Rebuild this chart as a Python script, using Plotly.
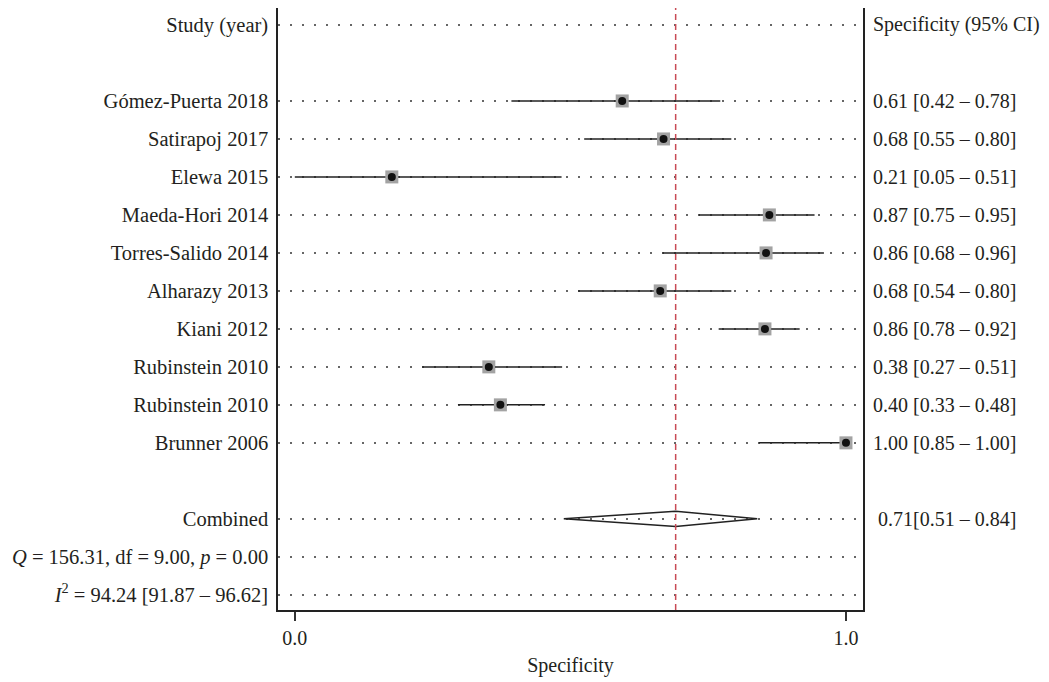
import plotly.graph_objects as go

# ---- data ----
studies = ["Gómez-Puerta 2018", "Satirapoj 2017", "Elewa 2015", "Maeda-Hori 2014",
           "Torres-Salido 2014", "Alharazy 2013", "Kiani 2012", "Rubinstein 2010",
           "Rubinstein 2010", "Brunner 2006"]
spec_est = [0.594, 0.669, 0.176, 0.861, 0.855, 0.663, 0.853, 0.352, 0.373, 1.000]
spec_lo = [0.393, 0.525, 0.000, 0.733, 0.667, 0.514, 0.769, 0.231, 0.296, 0.842]
spec_hi = [0.772, 0.792, 0.484, 0.943, 0.960, 0.792, 0.916, 0.485, 0.454, 1.000]
spec_text = ["0.61 [0.42 – 0.78]", "0.68 [0.55 – 0.80]", "0.21 [0.05 – 0.51]",
             "0.87 [0.75 – 0.95]", "0.86 [0.68 – 0.96]", "0.68 [0.54 – 0.80]",
             "0.86 [0.78 – 0.92]", "0.38 [0.27 – 0.51]", "0.40 [0.33 – 0.48]",
             "1.00 [0.85 – 1.00]"]
pooled_est = 0.691
pooled_lo = 0.488
pooled_hi = 0.839
pooled_text = "0.71[0.51 – 0.84]"
header_left = "Study (year)"
header_right = "Specificity (95% CI)"
combined_label = "Combined"
q_label = "<i>Q</i> = 156.31, df = 9.00, <i>p</i> = 0.00"
i2_label = "<i>I</i><sup>2</sup> = 94.24 [91.87 – 96.62]"
x_tickvals = [0.0, 1.0]
x_ticktext = ["0.0", "1.0"]
x_title = "Specificity"

# ---- row layout ----
header_row = 0
study_rows = [2 + i for i in range(len(studies))]
combined_row = study_rows[-1] + 2
q_row = combined_row + 1
i2_row = combined_row + 2

FONT = "Liberation Serif"
TXT = "#231f20"
fs = 20
fs_left = 20.5

fig = go.Figure()

# CI lines
cx, cy = [], []
for r, a, b in zip(study_rows, spec_lo, spec_hi):
    cx += [a, b, None]
    cy += [r, r, None]
fig.add_trace(go.Scatter(x=cx, y=cy, mode="lines",
                         line=dict(color="#222222", width=1.5),
                         hoverinfo="skip", showlegend=False))
# grey squares
fig.add_trace(go.Scatter(x=spec_est, y=study_rows, mode="markers",
                         marker=dict(symbol="square", size=13, color="#a3a3a3",
                                     line=dict(width=0)),
                         showlegend=False))
# black dots
fig.add_trace(go.Scatter(x=spec_est, y=study_rows, mode="markers",
                         marker=dict(symbol="circle", size=8, color="#111111",
                                     line=dict(width=0)),
                         showlegend=False))
# diamond
dh = 0.2
fig.add_trace(go.Scatter(
    x=[pooled_lo, pooled_est, pooled_hi, pooled_est, pooled_lo],
    y=[combined_row, combined_row - dh, combined_row, combined_row + dh, combined_row],
    mode="lines", line=dict(color="#222222", width=1.5),
    hoverinfo="skip", showlegend=False))

# pooled reference line
fig.add_shape(type="line", x0=pooled_est, x1=pooled_est, xref="x",
              y0=0, y1=1, yref="paper",
              line=dict(color="#c84a55", width=1.5, dash="6px,4px"))

# right-hand labels
right_rows = [header_row] + study_rows + [combined_row]
right_texts = [header_right] + spec_text + [pooled_text]
for r, t in zip(right_rows, right_texts):
    shift = 8 if t != pooled_text else 13
    fig.add_annotation(x=1, xref="paper", y=r, yref="y", text=t,
                       showarrow=False, xanchor="left", yanchor="middle",
                       xshift=shift, font=dict(family=FONT, size=fs, color=TXT))

left_rows = [header_row] + study_rows + [combined_row, q_row, i2_row]
left_texts = [header_left] + studies + [combined_label, q_label, i2_label]

fig.update_layout(
    width=1049, height=682,
    margin=dict(l=278, r=186, t=8, b=72),
    paper_bgcolor="white", plot_bgcolor="white",
    font=dict(family=FONT, size=fs, color=TXT),
    xaxis=dict(range=[-0.0305, 1.0309], tickmode="array",
               tickvals=x_tickvals, ticktext=x_ticktext,
               ticks="outside", ticklen=9, tickwidth=1.5, tickcolor="#333333",
               showline=True, linecolor="#222222", linewidth=1.5, mirror=False,
               showgrid=False, zeroline=False,
               tickfont=dict(family=FONT, size=fs, color=TXT),
               title=dict(text=x_title, font=dict(family=FONT, size=fs, color=TXT),
                          standoff=10)),
    yaxis=dict(range=[i2_row + 0.4, -0.447], tickmode="array",
               tickvals=left_rows, ticktext=left_texts,
               ticks="", ticklabelstandoff=4,
               showline=True, linecolor="#222222", linewidth=1.5, mirror=True,
               showgrid=True, gridcolor="#666666", gridwidth=1.5,
               griddash="1.5px,10.5px", zeroline=False,
               tickfont=dict(family=FONT, size=fs_left, color=TXT)),
)

fig.write_html("out.html")
